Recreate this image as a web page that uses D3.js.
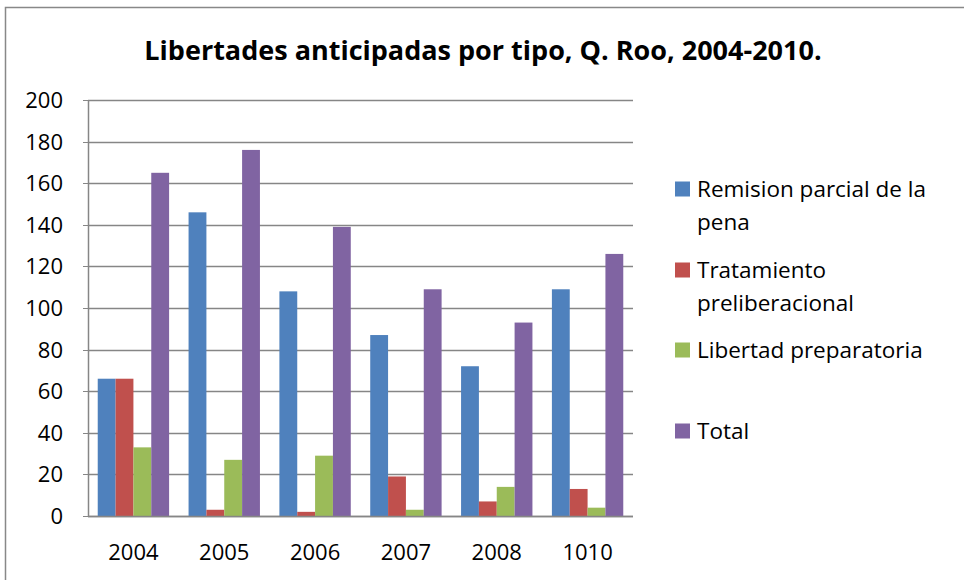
<!DOCTYPE html>
<html>
<head>
<meta charset="utf-8">
<script src="https://cdn.jsdelivr.net/npm/d3@7"></script>
<style>
  body { margin: 0; background: #fff; }
  svg text { font-family: "Open Sans", "Noto Sans", sans-serif; fill: #000; }
</style>
</head>
<body>
<div id="chart"></div>
<script>
// data
const years = ["2004", "2005", "2006", "2007", "2008", "1010"];
const seriesNames = ["Remision parcial de la pena", "Tratamiento preliberacional", "Libertad preparatoria", "Total"];
const remision = [66, 146, 108, 87, 72, 109];
const tratamiento = [66, 3, 2, 19, 7, 13];
const libertad = [33, 27, 29, 3, 14, 4];
const total = [165, 176, 139, 109, 93, 126];
const yTicks = [0, 20, 40, 60, 80, 100, 120, 140, 160, 180, 200];

const colors = ["#4f81bd", "#c0504d", "#9bbb59", "#8064a2"];
const allSeries = [remision, tratamiento, libertad, total];

const W = 964, H = 580;
const svg = d3.select("#chart").append("svg")
    .attr("width", W)
    .attr("height", H);

// outer frame (left + top only visible)
svg.append("path")
    .attr("d", "M5.5,590 L5.5,7.5 L970,7.5")
    .attr("fill", "none")
    .attr("stroke", "#888")
    .attr("stroke-width", 1.5);

svg.append("text")
    .attr("x", 483)
    .attr("y", 60)
    .attr("text-anchor", "middle")
    .attr("font-weight", "bold")
    .attr("font-size", 27)
    .text("Libertades anticipadas por tipo, Q. Roo, 2004-2010.");

const plot = { left: 88, right: 633, top: 100, bottom: 516 };

const x0 = d3.scaleBand()
    .domain(years)
    .range([plot.left, plot.right])
    .paddingInner(0)
    .paddingOuter(0);

const x1 = d3.scaleBand()
    .domain(d3.range(4))
    .range([0, x0.bandwidth()])
    .paddingOuter(0.75 * 4 / 5.5)
    .paddingInner(0);

const y = d3.scaleLinear().domain([0, 200]).range([plot.bottom, plot.top]);

// gridlines
svg.append("g")
    .selectAll("line")
    .data(yTicks)
    .join("line")
    .attr("x1", plot.left)
    .attr("x2", plot.right)
    .attr("y1", d => Math.round(y(d)) + 0.5)
    .attr("y2", d => Math.round(y(d)) + 0.5)
    .attr("stroke", "#868686")
    .attr("stroke-width", 1.5);

// y axis line + ticks
svg.append("line")
    .attr("x1", plot.left + 0.5).attr("x2", plot.left + 0.5)
    .attr("y1", plot.top).attr("y2", plot.bottom)
    .attr("stroke", "#868686").attr("stroke-width", 1.5);

svg.append("g")
    .selectAll("line")
    .data(yTicks)
    .join("line")
    .attr("x1", plot.left - 5)
    .attr("x2", plot.left)
    .attr("y1", d => Math.round(y(d)) + 0.5)
    .attr("y2", d => Math.round(y(d)) + 0.5)
    .attr("stroke", "#868686");

svg.append("g")
    .selectAll("text")
    .data(yTicks)
    .join("text")
    .attr("x", 63)
    .attr("y", d => y(d) + 8)
    .attr("text-anchor", "end")
    .attr("font-size", 22)
    .text(d => d);

// bars
const groups = svg.append("g")
    .selectAll("g")
    .data(years)
    .join("g")
    .attr("transform", d => `translate(${x0(d)},0)`);

groups.selectAll("rect")
    .data((d, i) => allSeries.map((s, k) => ({ k: k, v: s[i] })))
    .join("rect")
    .attr("x", d => x1(d.k))
    .attr("width", x1.bandwidth())
    .attr("y", d => y(d.v))
    .attr("height", d => y(0) - y(d.v))
    .attr("fill", d => colors[d.k]);

// x axis
svg.append("line")
    .attr("x1", plot.left).attr("x2", plot.right)
    .attr("y1", plot.bottom + 0.5).attr("y2", plot.bottom + 0.5)
    .attr("stroke", "#868686").attr("stroke-width", 1.5);

svg.append("g")
    .selectAll("text")
    .data(years)
    .join("text")
    .attr("x", d => x0(d) + x0.bandwidth() / 2)
    .attr("y", 560)
    .attr("text-anchor", "middle")
    .attr("font-size", 22)
    .text(d => d);

// legend
const legendLines = [
    ["Remision parcial de la", "pena"],
    ["Tratamiento", "preliberacional"],
    ["Libertad preparatoria"],
    ["Total"]
];
const legendY = [189, 270, 350, 431];

const legend = svg.append("g");
legendLines.forEach((lines, i) => {
    legend.append("rect")
        .attr("x", 675)
        .attr("y", legendY[i] - 7.5)
        .attr("width", 15)
        .attr("height", 15)
        .attr("fill", colors[i]);
    lines.forEach((t, j) => {
        legend.append("text")
            .attr("x", 697)
            .attr("y", legendY[i] + 8 + j * 33)
            .attr("font-size", 22.5)
            .text(t);
    });
});
</script>
</body>
</html>
